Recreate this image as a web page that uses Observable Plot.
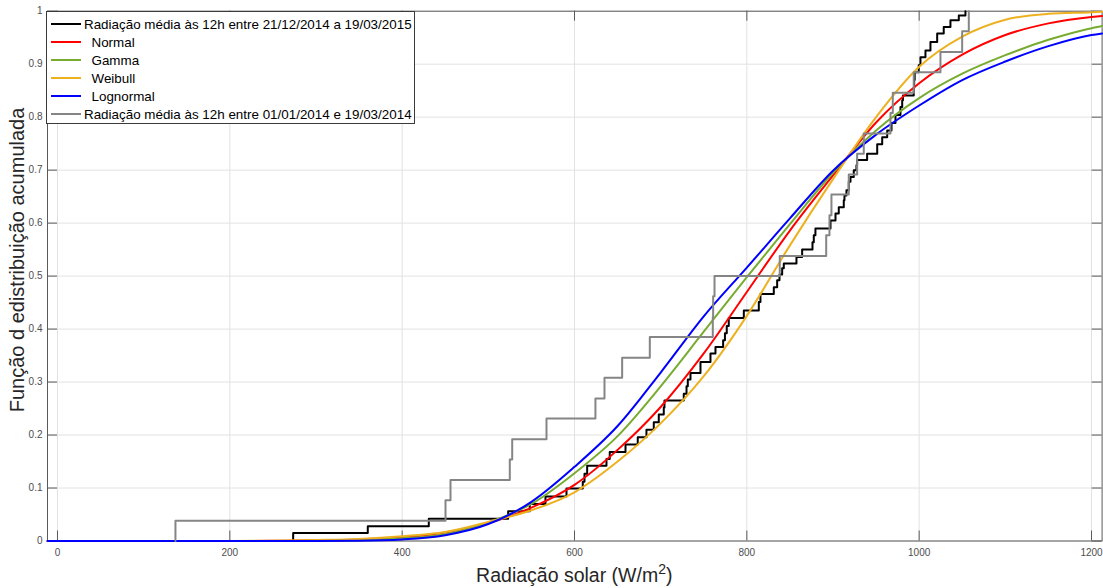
<!DOCTYPE html>
<html>
<head>
<meta charset="utf-8">
<script src="https://cdn.jsdelivr.net/npm/d3@7"></script>
<script src="https://cdn.jsdelivr.net/npm/@observablehq/plot@0.6"></script>
<style>
body{margin:0;background:#fff;}
#wrap{position:relative;width:1103px;height:588px;overflow:hidden;}
#legend{position:absolute;left:46px;top:10.5px;width:369px;height:113px;background:#fff;border:1px solid #3a3a3a;box-sizing:border-box;font-family:"Liberation Sans",Arial,sans-serif;font-size:13.4px;color:#000;}
.sw{position:absolute;left:4px;width:30px;height:2px;}
.lab{position:absolute;white-space:nowrap;transform:translateY(-50%);line-height:1;}
</style>
</head>
<body>
<div id="wrap"></div>
<script>
// ---------- data ----------
const xTicks = [0, 200, 400, 600, 800, 1000, 1200];
const yTicks = [0, 0.1, 0.2, 0.3, 0.4, 0.5, 0.6, 0.7, 0.8, 0.9, 1];

const seriesNames = [
  "Radiação média às 12h entre 21/12/2014 a 19/03/2015",
  "Normal",
  "Gamma",
  "Weibull",
  "Lognormal",
  "Radiação média às 12h entre 01/01/2014 e 19/03/2014"
];
const seriesColors = ["#000000", "#ff0000", "#77ac30", "#edb120", "#0000ff", "#858585"];

// empirical CDF 21/12/2014 - 19/03/2015 (x where the step rises, level after the step)
const blackX = [273.5,360.1,430.9,523.0,548.1,566.3,590.7,609.6,611.6,614.7,637.1,640.9,659.2,673.4,683.5,692.0,697.8,703.6,704.4,726.8,730.0,731.5,734.6,746.2,757.8,763.6,772.5,774.6,776.7,779.0,796.5,813.9,815.8,831.3,835.2,837.9,841.0,842.9,857.6,864.2,876.2,877.7,879.6,897.1,902.9,906.7,912.5,913.3,915.6,918.3,920.3,924.1,927.2,928.0,939.6,951.3,957.1,962.9,967.9,972.5,978.3,980.3,981.2,993.7,994.2,994.8,999.5,1001.5,1007.3,1013.1,1020.9,1028.5,1036.3,1046.0,1053.7];
const blackY = [0.015,0.028,0.042,0.056,0.070,0.084,0.099,0.112,0.127,0.142,0.155,0.168,0.182,0.196,0.210,0.224,0.239,0.252,0.265,0.278,0.292,0.305,0.317,0.338,0.354,0.366,0.379,0.392,0.406,0.421,0.435,0.451,0.466,0.479,0.492,0.503,0.515,0.524,0.536,0.550,0.564,0.577,0.590,0.605,0.618,0.630,0.643,0.652,0.662,0.678,0.687,0.700,0.709,0.719,0.731,0.749,0.762,0.775,0.789,0.804,0.819,0.832,0.841,0.855,0.870,0.885,0.898,0.913,0.926,0.942,0.958,0.970,0.983,0.992,1.0];

// empirical CDF 01/01/2014 - 19/03/2014
const grayX = [136.9,450.3,456.1,524.9,527.7,567.5,624.3,634.8,655.3,687.4,760.5,760.9,762.5,838.2,892.1,895.9,898.2,918.3,928.0,935.7,966.7,969.4,993.7,1024.7,1049.9,1057.6];
const grayY = [0.038,0.077,0.115,0.154,0.192,0.231,0.269,0.308,0.346,0.385,0.423,0.462,0.500,0.538,0.577,0.615,0.654,0.692,0.731,0.769,0.808,0.846,0.885,0.923,0.962,1.0];

// fitted CDF curves
const fitX      = [-11.6,0,100,200,250,300,350,400,450,500,550,600,650,700,750,800,850,900,950,1000,1050,1100,1150,1200,1212.3];
const normalY   = [0,0,0,0,0.0003,0.0013,0.003,0.007,0.016,0.034,0.063,0.106,0.172,0.253,0.354,0.470,0.586,0.690,0.790,0.864,0.918,0.955,0.977,0.989,0.991];
const gammaY    = [0,0,0,0,0,0.0003,0.0015,0.005,0.013,0.035,0.070,0.128,0.198,0.292,0.395,0.498,0.598,0.695,0.775,0.836,0.882,0.917,0.946,0.968,0.972];
const weibullY  = [0,0,0,0,0.0006,0.002,0.004,0.009,0.017,0.036,0.058,0.092,0.150,0.222,0.311,0.425,0.558,0.683,0.800,0.895,0.952,0.984,0.995,0.998,0.999];
const lognormY  = [0,0,0,0,0,0,0.0005,0.003,0.011,0.032,0.074,0.140,0.217,0.318,0.424,0.516,0.609,0.699,0.767,0.822,0.870,0.905,0.934,0.955,0.958];

const xDomain = [-11.6, 1212.3];

// ---------- build ----------
const W = 1103, H = 588, mL = 47, mR = 1.4, mT = 10.7, mB = 47.5;
const pw = W - mL - mR, ph = H - mT - mB;
const FONT = "Liberation Sans, Arial, Helvetica, sans-serif";

const ecdf = (xs, ys) => [{x: xs[0], y: 0}, ...xs.map((x, i) => ({x, y: ys[i]}))];
const fit = ys => fitX.map((x, i) => ({x, y: ys[i]}));

const axisColor = "#5a5a5a";
const lw = 2;

const svg = Plot.plot({
  width: W, height: H,
  marginLeft: mL, marginRight: mR, marginTop: mT, marginBottom: mB,
  style: {fontFamily: FONT, background: "#fff", overflow: "visible"},
  x: {domain: xDomain},
  y: {domain: [0, 1]},
  marks: [
    Plot.gridX(xTicks, {stroke: "#e2e2e2", strokeOpacity: 1}),
    Plot.gridY(yTicks, {stroke: "#e2e2e2", strokeOpacity: 1}),
    Plot.frame({stroke: axisColor}),
    Plot.ruleX(xTicks, {stroke: axisColor, insetTop: ph - 10}),
    Plot.ruleX(xTicks, {stroke: axisColor, insetBottom: ph - 10}),
    Plot.ruleY(yTicks, {stroke: axisColor, insetRight: pw - 10}),
    Plot.ruleY(yTicks, {stroke: axisColor, insetLeft: pw - 10}),
    Plot.axisX(xTicks, {tickSize: 0, tickPadding: 7.5, tickFormat: d => String(d), fontSize: 10, color: "#4d4d4d", label: null}),
    Plot.axisY(yTicks, {tickSize: 0, tickPadding: 5, tickFormat: d => (d === 0 ? "0" : d === 1 ? "1" : d.toFixed(1)), fontSize: 10, color: "#4d4d4d", label: null}),
    Plot.line(ecdf(blackX, blackY), {x: "x", y: "y", curve: "step-after", stroke: seriesColors[0], strokeWidth: lw}),
    Plot.line(fit(normalY), {x: "x", y: "y", curve: "monotone-x", stroke: seriesColors[1], strokeWidth: lw}),
    Plot.line(fit(gammaY), {x: "x", y: "y", curve: "monotone-x", stroke: seriesColors[2], strokeWidth: lw}),
    Plot.line(fit(weibullY), {x: "x", y: "y", curve: "monotone-x", stroke: seriesColors[3], strokeWidth: lw}),
    Plot.line(fit(lognormY), {x: "x", y: "y", curve: "monotone-x", stroke: seriesColors[4], strokeWidth: lw}),
    Plot.line(ecdf(grayX, grayY), {x: "x", y: "y", curve: "step-after", stroke: seriesColors[5], strokeWidth: lw})
  ]
});

const s = d3.select(svg);
const xt = s.append("text")
  .attr("x", mL + pw / 2).attr("y", 582)
  .attr("text-anchor", "middle")
  .attr("font-family", FONT).attr("font-size", 19.5).attr("fill", "#262626");
xt.append("tspan").text("Radiação solar (W/m");
xt.append("tspan").attr("dy", -8).attr("font-size", 14).text("2");
xt.append("tspan").attr("dy", 8).text(")");

s.append("text")
  .attr("transform", "translate(24,260) rotate(-90)")
  .attr("text-anchor", "middle")
  .attr("font-family", FONT).attr("font-size", 20).attr("fill", "#262626")
  .text("Função d edistribuição acumulada");

const wrap = document.getElementById("wrap");
wrap.appendChild(svg);

// legend (inside the axes, top-left)
const leg = document.createElement("div");
leg.id = "legend";
seriesNames.forEach((name, i) => {
  const cy = 12.8 + i * 18;
  const sw = document.createElement("div");
  sw.className = "sw";
  sw.style.top = (cy - 1) + "px";
  sw.style.background = seriesColors[i];
  const lab = document.createElement("div");
  lab.className = "lab";
  lab.style.top = (cy + 0.5) + "px";
  lab.style.left = (i === 0 || i === seriesNames.length - 1 ? 37 : 44.5) + "px";
  lab.textContent = name;
  leg.appendChild(sw);
  leg.appendChild(lab);
});
wrap.appendChild(leg);
</script>
</body>
</html>
